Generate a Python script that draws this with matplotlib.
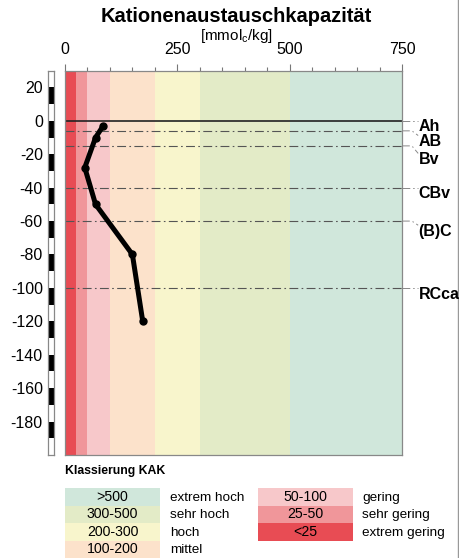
import numpy as np
import matplotlib.pyplot as plt
from matplotlib.patches import Rectangle
from matplotlib.lines import Line2D

plt.rcParams['font.family'] = ['Liberation Sans', 'DejaVu Sans']
plt.rcParams['axes.unicode_minus'] = False

# KAK profile (mmol_c/kg) vs depth (cm)
kak = [85, 68, 44, 68, 150, 173]
depth = [-3, -10, -28, -50, -80, -120]

# horizon boundaries and names
horizon_depth = [0, -6, -15, -40, -60, -100]
horizon_names = ['Ah', 'AB', 'Bv', 'CBv', '(B)C', 'RCca']
label_top = [0, -8.8, -19.5, -39.8, -62.5, -100]

# classes
class_edges = [0, 25, 50, 100, 200, 300, 500, 750]
class_colors = ['#E84C54', '#F0969A', '#F7C8CA', '#FCE2CB', '#F8F5CC', '#E3EBC7', '#D0E7DB']
class_labels = ['<25', '25-50', '50-100', '100-200', '200-300', '300-500', '>500']
class_names = ['extrem gering', 'sehr gering', 'gering', 'mittel', 'hoch', 'sehr hoch', 'extrem hoch']

W, H = 459, 558
fig = plt.figure(figsize=(W / 100, H / 100), dpi=100)

def fx(px):
    return px / W

def fy(py):
    return 1 - py / H

ax = fig.add_axes([fx(65), fy(455), fx(402 - 65), fy(70.7) - fy(455)])
ax.set_xlim(0, 750)
ax.set_ylim(-200, 30)

for i in range(len(class_colors)):
    ax.axvspan(class_edges[i], class_edges[i + 1], color=class_colors[i], lw=0, zorder=0)

# horizon lines
dash = (0, (8, 3, 1.5, 3))
for d, name, top in zip(horizon_depth, horizon_names, label_top):
    if d == 0:
        ax.plot([0, 750], [d, d], color='#222222', lw=1.2, zorder=2)
    else:
        ax.plot([0, 750], [d, d], color='#555555', lw=0.8, ls=dash, zorder=2)
    if abs(top - d) > 1:
        xs, ys = [750, 772, 786], [d, d, top]
    else:
        xs, ys = [750, 786], [d, d]
    ax.plot(xs, ys, color='#888888', lw=0.7, ls=dash, clip_on=False)
    ax.text(787, top + 0.8, name, fontsize=11.5, fontweight='bold', va='top', ha='left',
            clip_on=False)

ax.plot(kak, depth, color='black', lw=3.6, marker='o', ms=5, solid_capstyle='round',
        solid_joinstyle='round', zorder=3)

ax.xaxis.tick_top()
ax.set_xticks([0, 250, 500, 750])
ax.set_xticks(np.arange(0, 751, 50), minor=True)
ax.tick_params(axis='x', which='major', length=5, width=0.8, color='#777777', pad=5, labelsize=11.5)
ax.tick_params(axis='x', which='minor', length=3, width=0.8, color='#777777')
ax.set_yticks(np.arange(-180, 21, 20))
ax.tick_params(axis='y', length=0, pad=16, labelsize=11.5)
for s in ax.spines.values():
    s.set_color('#888888')
    s.set_linewidth(0.9)

# depth scale bar
bar = fig.add_axes([fx(48), fy(455), fx(6), fy(70.7) - fy(455)])
bar.set_xlim(0, 1)
bar.set_ylim(-200, 30)
for lo in np.arange(-200, 30, 10):
    c = 'black' if (lo // 10) % 2 else 'white'
    bar.axhspan(lo, lo + 10, color=c, lw=0)
bar.set_xticks([])
bar.set_yticks([])
for s in bar.spines.values():
    s.set_color('#888888')
    s.set_linewidth(0.9)

fig.text(fx(236), fy(17), 'Kationenaustauschkapazität', fontsize=14.5, fontweight='bold',
         ha='center', va='center')
fig.text(fx(236), fy(36), '[mmol$_\\mathregular{c}$/kg]', fontsize=11, ha='center', va='center')

# legend
fig.text(fx(65), fy(471), 'Klassierung KAK', fontsize=8.8, fontweight='bold', va='center')
leg = fig.add_axes([0, 0, 1, 1], zorder=-1)
leg.set_xlim(0, W)
leg.set_ylim(H, 0)
leg.axis('off')
row_h = 17.5
left_col = [6, 5, 4, 3]
right_col = [2, 1, 0]
for col, x0, xt in [(left_col, 65, 170), (right_col, 258, 362)]:
    for r, k in enumerate(col):
        y0 = 488 + r * row_h
        leg.add_patch(Rectangle((x0, y0), 95, row_h, color=class_colors[k], lw=0))
        leg.text(x0 + 47.5, y0 + row_h / 2, class_labels[k], fontsize=10.2, ha='center', va='center')
        leg.text(xt, y0 + row_h / 2 + 1, class_names[k], fontsize=9.7, ha='left', va='center')
leg.add_line(Line2D([457.5, 457.5], [0, H], color='#999999', lw=1))

fig.savefig('out.png', dpi=100)
